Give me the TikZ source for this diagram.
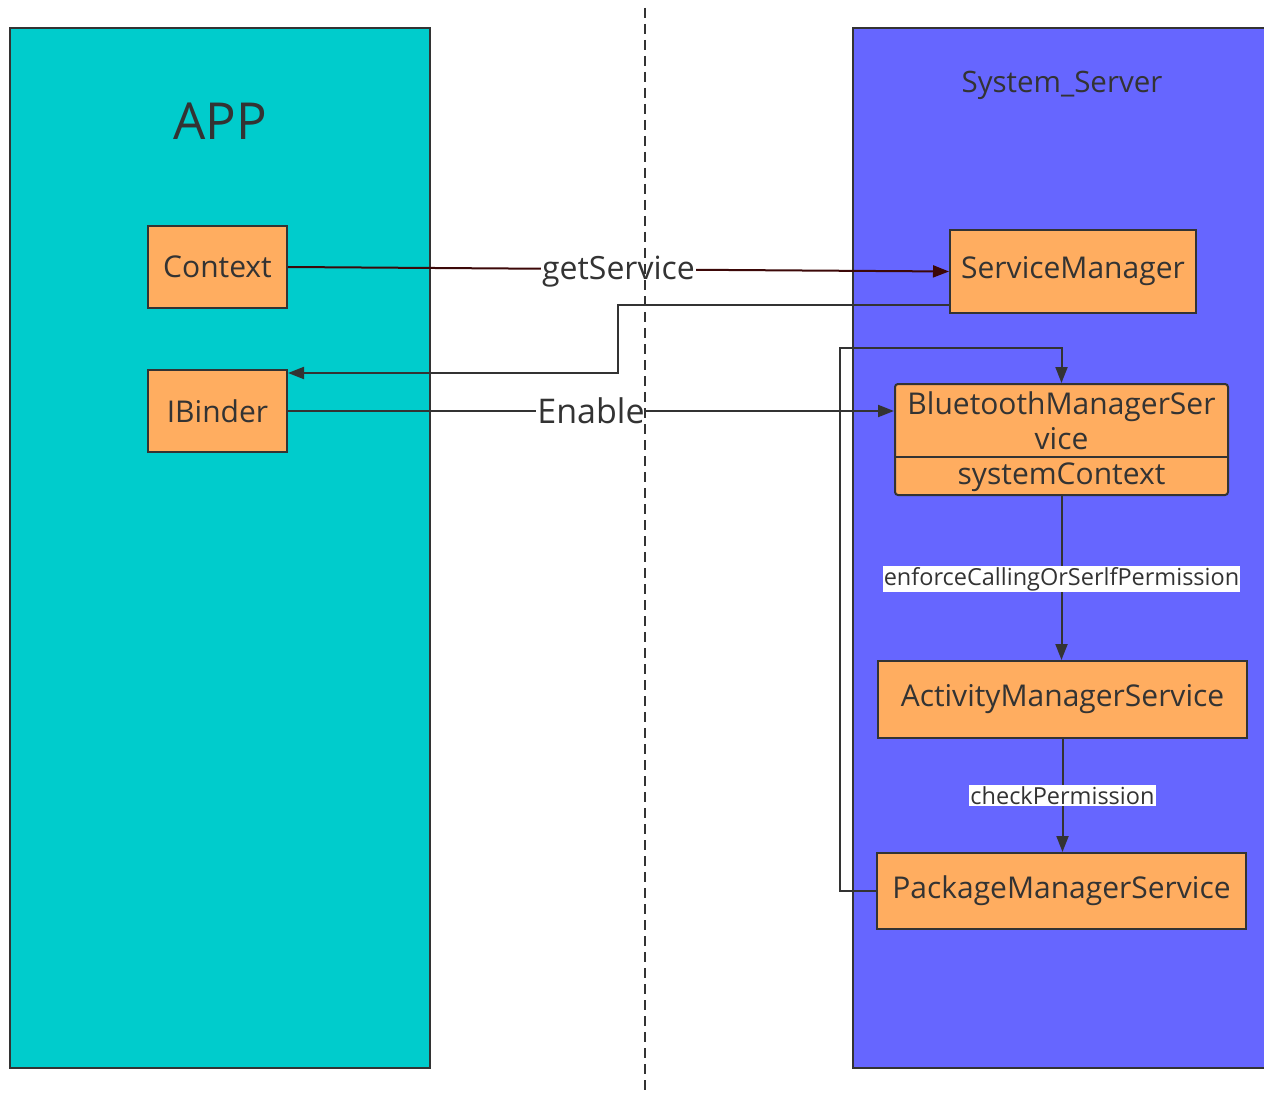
\documentclass[tikz,border=0pt]{standalone}
\usepackage{fontspec}
\setmainfont{Open Sans}
\usetikzlibrary{arrows.meta,calc}
\definecolor{appcyan}{RGB}{0,204,204}
\definecolor{srvblue}{RGB}{102,102,255}
\definecolor{boxorange}{RGB}{255,173,96}
\definecolor{ink}{RGB}{51,51,51}
\definecolor{maroon}{RGB}{60,8,8}
\tikzset{
  region/.style={draw=ink,line width=2pt},
  comp/.style={draw=ink,fill=boxorange,line width=2pt,text=ink,inner sep=0pt,
    font=\fontsize{30}{34}\selectfont},
  link/.style={draw=ink,line width=2pt,-{Triangle[length=16pt,width=12pt]}},
  plain/.style={draw=ink,line width=2pt},
  edgelbl/.style={fill=white,text=ink,inner sep=1pt,font=\fontsize{23.5}{26}\selectfont},
  biglbl/.style={fill=white,text=ink,inner sep=1pt,font=\fontsize{32}{34}\selectfont},
}
\begin{document}
\begin{tikzpicture}[x=1pt,y=-1pt]
\useasboundingbox (0,0) rectangle (1264,1094);
\fill[white] (0,0) rectangle (1264,1094);

% process regions
\draw[region,fill=appcyan] (10,28) rectangle (430,1068);
\draw[region,fill=srvblue] (853,28) rectangle (1266,1068);

\node[text=ink,font=\fontsize{51}{56}\selectfont] (apptitle) at (220,121) {APP};
\node[text=ink,font=\fontsize{29.5}{32}\selectfont] (srvtitle) at (1062,85) {System\_Server};

% components
\node[comp,minimum width=139pt,minimum height=82pt] (ctx) at (217.5,267) {Context};
\node[comp,minimum width=139pt,minimum height=82pt] (ib) at (217.5,411) {IBinder};
\node[comp,minimum width=246pt,minimum height=83pt] (sm) at (1073,271.5) {ServiceManager};
\node[comp,rounded corners=3pt,minimum width=333pt,minimum height=111pt] (bt) at (1061.5,439.5) {};
\draw[plain] (bt.west |- 0,457) -- (bt.east |- 0,457);
\node[text=ink,align=center,font=\fontsize{30}{35}\selectfont] (btname) at (1061.5,421) {BluetoothManagerSer\\vice};
\node[text=ink,font=\fontsize{30}{34}\selectfont] (btctx) at (1061.5,477) {systemContext};
\node[comp,minimum width=369pt,minimum height=77pt] (ams) at (1062.5,699.5) {ActivityManagerService};
\node[comp,minimum width=369pt,minimum height=76pt] (pms) at (1061.5,891) {PackageManagerService};

% connectors
\draw[link,draw=maroon,-{Triangle[length=16pt,width=12pt,fill=maroon]}] (ctx.east) -- node[biglbl,yshift=-2pt]{getService} (sm.west);
\coordinate (retbend) at (618,305);
\draw[link] (sm.west |- retbend) -- (retbend) -- (618,373) -- (ib.east |- 0,373);
\draw[link] (ib.east) -- node[biglbl,font=\fontsize{34}{36}\selectfont]{Enable} (bt.west |- ib.east);
\coordinate (loopcorner) at (840,348);
\draw[link] (pms.west) -- (loopcorner |- pms.west) -- (loopcorner) -- (bt.north |- loopcorner) -- (bt.north);
\draw[link] (bt.south) -- node[edgelbl,yshift=-1pt]{enforceCallingOrSerlfPermission} (ams.north -| bt.south);
\draw[link] (ams.south) -- node[edgelbl]{checkPermission} (pms.north -| ams.south);

% boundary between the two processes
\draw[ink,line width=2pt,dash pattern=on 10pt off 6pt] (645,8) -- (645,1094);
\end{tikzpicture}
\end{document}
